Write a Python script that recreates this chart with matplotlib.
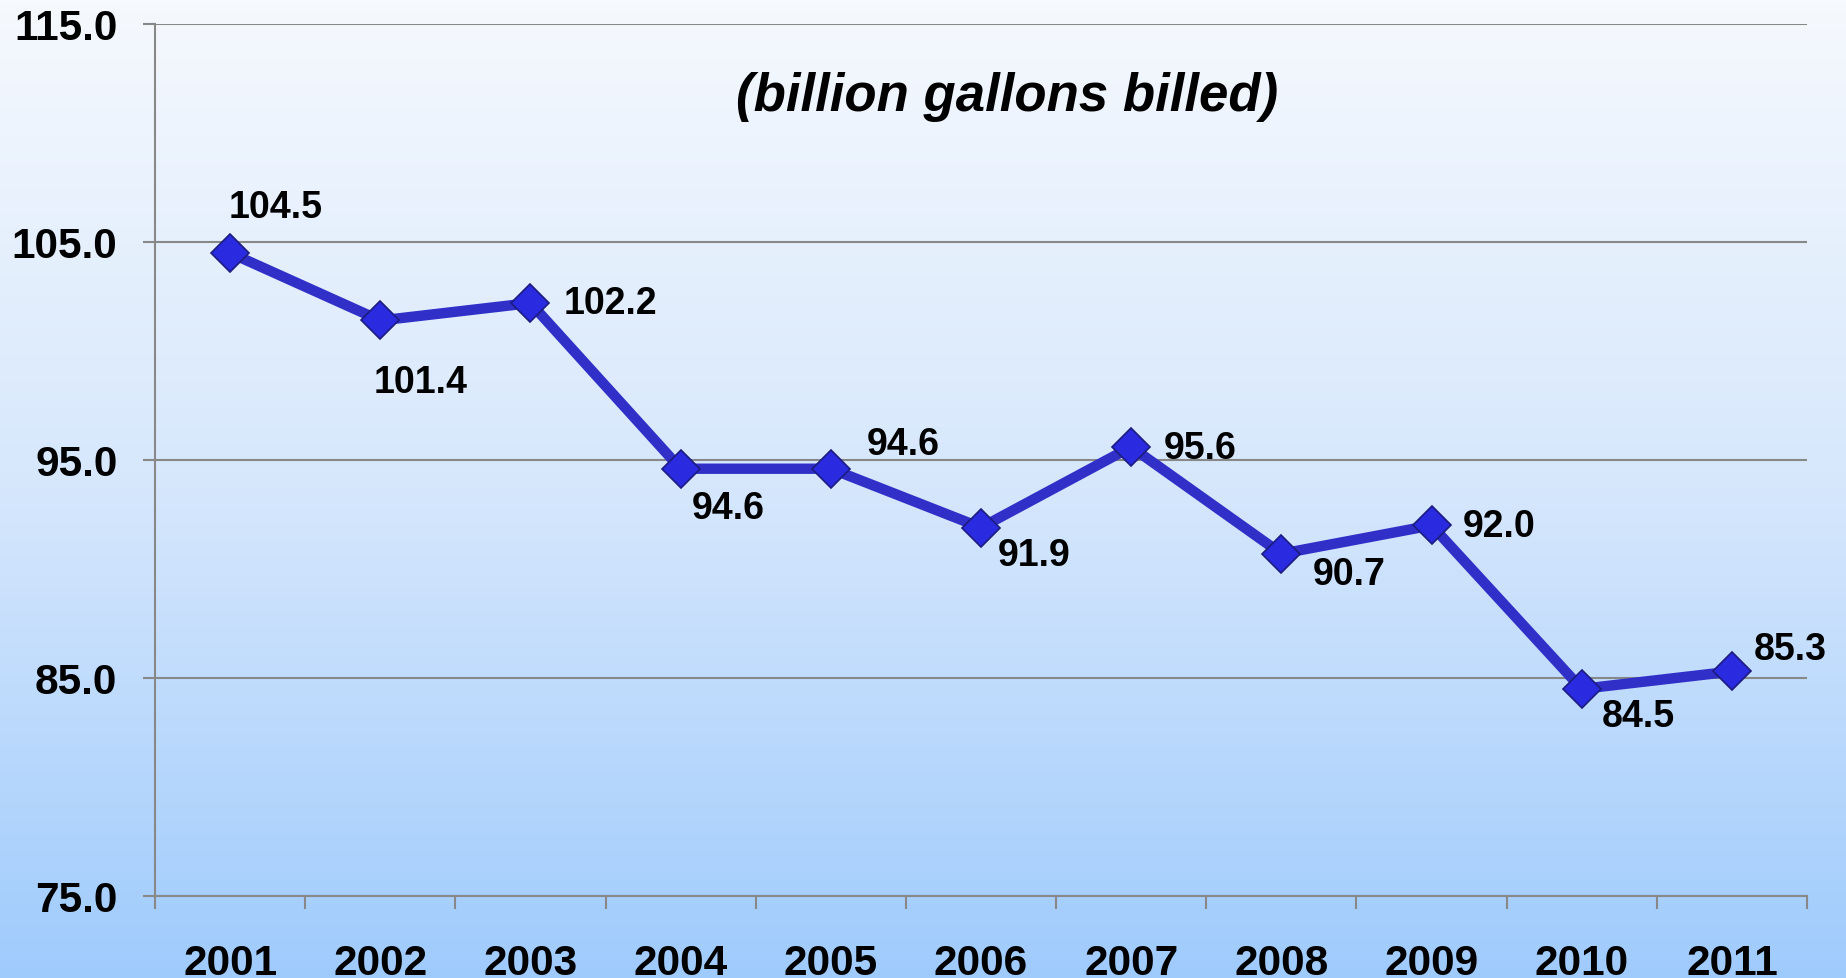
import matplotlib
matplotlib.use("Agg")
import matplotlib.pyplot as plt
import numpy as np
from matplotlib.colors import LinearSegmentedColormap

years = ["2001", "2002", "2003", "2004", "2005", "2006", "2007", "2008", "2009", "2010", "2011"]
values = [104.5, 101.4, 102.2, 94.6, 94.6, 91.9, 95.6, 90.7, 92.0, 84.5, 85.3]
labels = ["104.5", "101.4", "102.2", "94.6", "94.6", "91.9", "95.6", "90.7", "92.0", "84.5", "85.3"]
# label offsets in pixels (dx, dy), positive dy is up
offsets = [(46, 46), (40, -62), (80, 0), (48, -39), (72, 25), (53, -27),
           (69, -1), (68, -20), (68, -1), (57, -27), (58, 22)]
yticks = [75.0, 85.0, 95.0, 105.0, 115.0]

plt.rcParams['font.family'] = ['Liberation Sans', 'DejaVu Sans']

fig = plt.figure(figsize=(18.46, 9.79), dpi=100)

# background gradient
bg = fig.add_axes([0, 0, 1, 1], zorder=-10)
cmap = LinearSegmentedColormap.from_list("bg", ["#f6f9fe", "#d6e7fc", "#9fcbfc"])
grad = np.linspace(0, 1, 256).reshape(-1, 1)
bg.imshow(grad, aspect='auto', cmap=cmap, extent=[0, 1, 0, 1], origin='upper')
bg.axis('off')

ax = fig.add_axes([155/1846, 1 - 897/979, (1807-155)/1846, (897-25)/979])
ax.patch.set_alpha(0)

x = np.arange(len(years))
ax.plot(x, values, color="#3030c8", lw=7.5, solid_joinstyle='miter', zorder=3)
ax.plot(x, values, ls='none', marker='D', ms=19, mfc="#2a2ae0", mec="#1c1c80", mew=1.2, zorder=4)

for xi, v, lab, (dx, dy) in zip(x, values, labels, offsets):
    ax.annotate(lab, (xi, v), xytext=(dx, dy), textcoords='offset pixels',
                ha='center', va='center', fontsize=27, fontweight='bold', color='black', zorder=5)

ax.set_xlim(-0.5, len(years) - 0.5)
ax.set_ylim(75, 115)
ax.set_yticks(yticks)
ax.set_yticklabels([f"{t:.1f}" for t in yticks], fontsize=30.5, fontweight='bold')
ax.set_xticks(x)
ax.set_xticklabels(years, fontsize=30.5, fontweight='bold')
ax.set_xticks(np.arange(-0.5, len(years)), minor=True)
ax.tick_params(axis='x', which='major', length=0, pad=34)
ax.tick_params(axis='x', which='minor', length=9, width=1.5, color='#888888', direction='out')
ax.tick_params(axis='y', which='major', length=9, width=1.5, color='#888888', pad=18)

ax.yaxis.grid(True, color='#888888', lw=1.5)
ax.set_axisbelow(True)
for s in ['top', 'right']:
    ax.spines[s].set_visible(False)
for s in ['left', 'bottom']:
    ax.spines[s].set_color('#888888')
    ax.spines[s].set_linewidth(1.5)

ax.text(0.516, 0.917, "(billion gallons billed)", transform=ax.transAxes,
        ha='center', va='center', fontsize=38, fontweight='bold', fontstyle='italic')

fig.savefig("out.png", dpi=100)
